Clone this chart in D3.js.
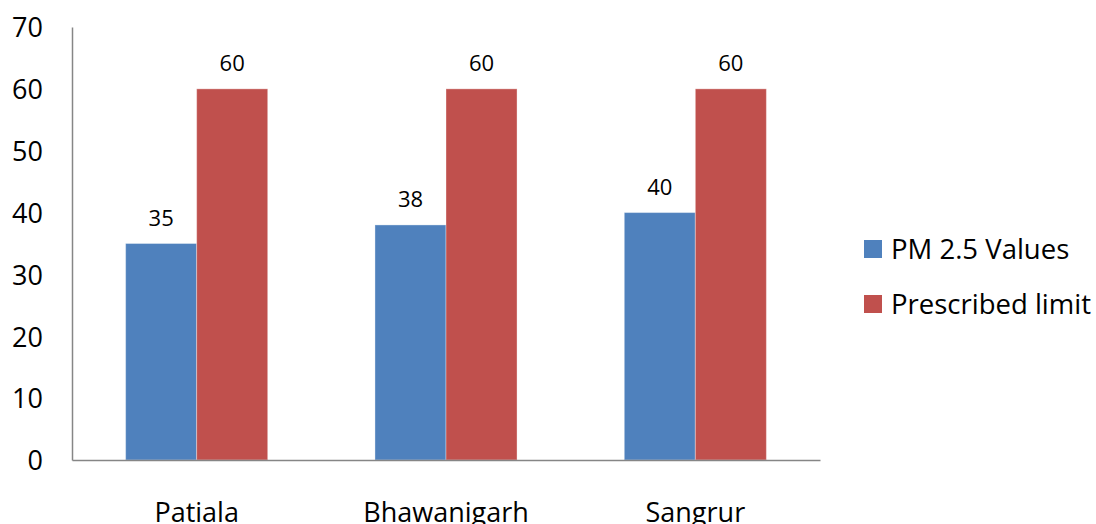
<!DOCTYPE html>
<html>
<head>
<meta charset="utf-8">
<script src="https://cdn.jsdelivr.net/npm/d3@7"></script>
<style>
  html, body { margin: 0; padding: 0; background: #fff; }
  svg text { font-family: "Open Sans", "Liberation Sans", sans-serif; fill: #000; }
</style>
</head>
<body>
<svg id="chart" width="1096" height="524"></svg>
<script>
// Sites and series
const categories = ["Patiala", "Bhawanigarh", "Sangrur"];
const seriesNames = ["PM 2.5 Values", "Prescribed limit"];
const pm25Values = [35, 38, 40];
const prescribedLimit = [60, 60, 60];
const yTicks = [0, 10, 20, 30, 40, 50, 60, 70];
const seriesColors = ["#4F81BD", "#C0504D"];

const seriesValues = [pm25Values, prescribedLimit];

const svg = d3.select("#chart");
const plot = { left: 72, right: 820, top: 27, bottom: 460 };

const x0 = d3.scaleBand()
  .domain(categories)
  .range([plot.left, plot.right])
  .padding(0);

const x1 = d3.scaleBand()
  .domain(seriesNames)
  .range([0, x0.bandwidth()])
  .paddingInner(0)
  .paddingOuter(0.755);

const y = d3.scaleLinear()
  .domain([0, 70])
  .range([plot.bottom, plot.top]);

// Bars
const groups = svg.append("g")
  .selectAll("g")
  .data(categories)
  .join("g")
  .attr("transform", d => `translate(${x0(d)},0)`);

groups.selectAll("rect")
  .data((c, i) => seriesNames.map((s, k) => ({ s, k, v: seriesValues[k][i] })))
  .join("rect")
  .attr("x", d => x1(d.s))
  .attr("y", d => y(d.v))
  .attr("width", x1.bandwidth())
  .attr("height", d => y(0) - y(d.v))
  .attr("fill", d => seriesColors[d.k])
  .attr("stroke", "rgba(255,255,255,0.35)")
  .attr("stroke-width", 1);

// Value labels
groups.selectAll("text.val")
  .data((c, i) => seriesNames.map((s, k) => ({ s, k, v: seriesValues[k][i] })))
  .join("text")
  .attr("class", "val")
  .attr("x", d => x1(d.s) + x1.bandwidth() / 2)
  .attr("y", d => y(d.v) - 18)
  .attr("text-anchor", "middle")
  .style("font-size", "22px")
  .text(d => d.v);

// Y axis
const yAxis = d3.axisLeft(y).tickValues(yTicks).tickSize(0).tickPadding(29);
const gy = svg.append("g")
  .attr("transform", `translate(${plot.left},0)`)
  .call(yAxis);
gy.select(".domain").attr("stroke", "#868686").attr("stroke-width", 1.5);
gy.selectAll("text")
  .style("font-size", "27px")
  .attr("dy", "0.36em");

// X axis
const xAxis = d3.axisBottom(x0).tickSize(0).tickPadding(43);
const gx = svg.append("g")
  .attr("transform", `translate(0,${plot.bottom})`)
  .call(xAxis);
gx.select(".domain").attr("stroke", "#868686").attr("stroke-width", 1.5);
gx.selectAll("text")
  .style("font-size", "27px")
  .attr("dy", "0.71em");

// Legend
const legend = svg.append("g")
  .selectAll("g")
  .data(seriesNames)
  .join("g")
  .attr("transform", (d, i) => `translate(864,${240 + i * 55})`);

legend.append("rect")
  .attr("width", 18)
  .attr("height", 18)
  .attr("fill", (d, i) => seriesColors[i]);

legend.append("text")
  .attr("x", 27)
  .attr("y", 9)
  .attr("dy", "0.36em")
  .style("font-size", "27.5px")
  .text(d => d);
</script>
</body>
</html>
